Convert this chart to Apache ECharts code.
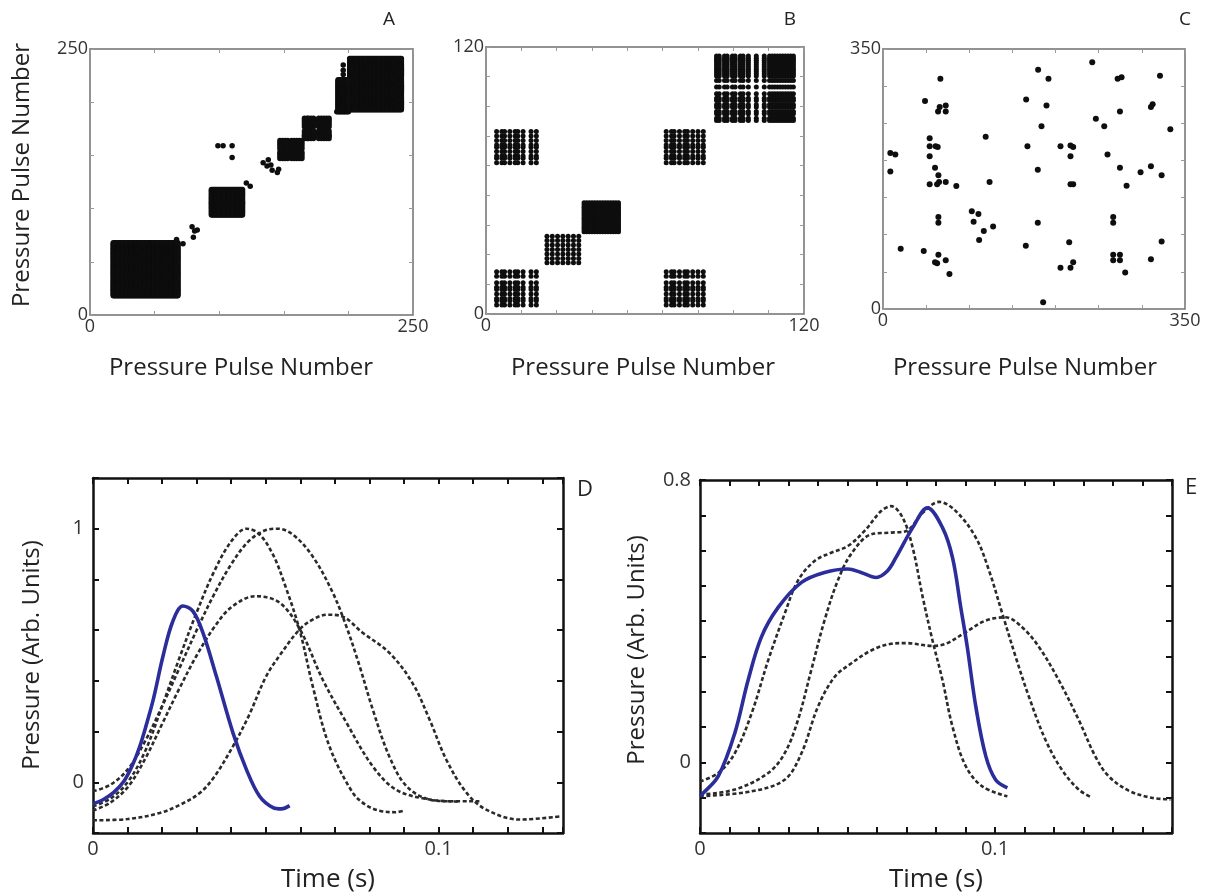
<!DOCTYPE html>
<html>
<head>
<meta charset="utf-8">
<script src="https://cdn.jsdelivr.net/npm/echarts/dist/echarts.min.js"></script>
<style>
html,body{margin:0;padding:0;background:#fff;}
#chart{width:1217px;height:896px;}
</style>
</head>
<body>
<div id="chart"></div>
<script>
// ---------------- DATA ----------------
// Panel A: recurrence plot, 250 pulses. Dense blocks given as pulse ranges [x0,x1,y0,y1]
const aDenseBlocks = [[18,68,18,68],[94,118,94,118],[201,241,193,241],[192,200,191,221]];
const aClusterP = [147,149,151,153,156,158,160,162,164];
const aClusterQ = [166,168,169,171,173,177,179,181,183,185];
const aPoints = [[67,71],[72,67],[79,83],[81,79],[80,73],[83,80],[121,124],[124,121],
  [134,143],[138,146],[137,140],[140,141],[141,136],[145,134],[146,137],
  [99,159],[103,159],[110,159],[110,148],[191,191],[196,226],[196,230],[196,235]];
const aTickLabels = [0,250];

// Panel B: recurrence plot, 120 pulses. Pulses belonging to each recurring state
const bState1a = [4,6,7,9,11,12,14,17,19];
const bState1b = [68,70,71,73,75,76,78,80,82];
const bState2a = [23,25,27,29,31,33,35];
const bState2b = [37,38,39,40,41,42,43,44,45,46,47,48,49,50];
const bState3  = [87,88,90,91,93,94,96,97,99,102,105,107,108,109,110,111,112,113,114,115,116];
const bTickLabels = [0,120];

// Panel C: recurrence plot, 350 pulses (sparse)
const cPoints = [[8.5,210],[14.3,208],[8.5,185],[20.5,81],[47.2,78],[48.7,280],[66.5,310],
  [65.7,272],[72.7,274],[63.8,266],[72.7,266],[54.1,230],[54.1,219],[61,219],[63.4,218],
  [54.1,205.5],[60.3,190],[64.2,180],[54.1,168],[62.7,168],[65,171],[72.7,171],[85,165.6],
  [119,232],[123.5,171],[64.2,124],[64.2,116],[102.9,131.5],[110.6,128],[105,117.6],
  [116.8,105],[127.6,111],[111.4,93],[64.2,73],[60.3,63],[62.7,61.5],[72.7,65.5],[77,47],
  [165.9,282],[179.8,322],[191.8,310],[189.5,274],[183.7,246],[167.4,219],[179.4,187.5],
  [179.4,116],[165.5,85],[185.6,9],[205.7,219],[217.3,220],[220.4,218],[217.3,205.5],
  [217.3,168],[220.4,168],[215.8,90],[205.7,55.6],[217.3,55.6],[220.4,63],[242.5,332],
  [246.7,256],[256.4,246],[260.2,208],[271.9,310],[276.5,312],[274.6,266],[274.6,190],
  [282.3,166],[266.8,124],[266.8,116],[266.8,73],[274.6,73],[266.8,65.5],[274.6,65.5],
  [280.7,49],[298.5,184],[310.5,272],[312.5,275.5],[321,314],[333,242],[310.5,192],
  [322.9,180],[322.9,91],[310.5,67]];
const cTickLabels = [0,350];

// Panel D: pressure pulses [time (s), pressure]
const dBlue = [[0,-0.085],[0.003,-0.068],[0.006,-0.04],[0.009,0.005],[0.0115,0.07],[0.0135,0.14],
  [0.0155,0.23],[0.0175,0.33],[0.0203,0.5],[0.0231,0.635],[0.026,0.695],[0.0289,0.675],
  [0.0318,0.59],[0.0357,0.418],[0.0405,0.195],[0.0444,0.05],[0.0482,-0.055],[0.0521,-0.1],
  [0.0545,-0.105],[0.0569,-0.092]];
const dPulse1 = [[0,-0.095],[0.005,-0.065],[0.01,0.0],[0.015,0.12],[0.02,0.3],[0.025,0.49],
  [0.03,0.67],[0.035,0.83],[0.04,0.95],[0.0444,1.0],[0.048,0.98],[0.052,0.9],[0.0555,0.78],
  [0.0598,0.6],[0.0636,0.378],[0.0684,0.142],[0.0751,-0.04],[0.079,-0.09],[0.0829,-0.112],
  [0.0875,-0.118],[0.0901,-0.112]];
const dPulse2 = [[0,-0.035],[0.005,-0.01],[0.01,0.05],[0.015,0.16],[0.02,0.3],[0.025,0.45],
  [0.03,0.6],[0.035,0.74],[0.04,0.86],[0.045,0.95],[0.0497,0.993],[0.0535,1.0],[0.058,0.975],
  [0.0636,0.89],[0.0693,0.75],[0.0733,0.615],[0.0771,0.46],[0.081,0.285],[0.0858,0.1],
  [0.0907,-0.015],[0.0974,-0.068],[0.104,-0.075],[0.1118,-0.075]];
const dPulse3 = [[0,-0.112],[0.005,-0.08],[0.01,-0.02],[0.015,0.09],[0.02,0.23],[0.025,0.37],
  [0.03,0.5],[0.035,0.61],[0.04,0.69],[0.047,0.734],[0.054,0.708],[0.06,0.6],[0.0665,0.404],
  [0.0733,0.236],[0.081,0.062],[0.0878,-0.03],[0.0974,-0.068],[0.106,-0.076]];
const dPulse4 = [[0,-0.15],[0.01,-0.145],[0.0193,-0.121],[0.025,-0.09],[0.0309,-0.042],
  [0.035,0.02],[0.0405,0.142],[0.045,0.26],[0.0501,0.418],[0.054,0.5],[0.0598,0.603],
  [0.064,0.645],[0.068,0.661],[0.072,0.655],[0.078,0.59],[0.0858,0.51],[0.0925,0.39],
  [0.0974,0.247],[0.1022,0.09],[0.108,-0.04],[0.1138,-0.108],[0.1234,-0.147],[0.135,-0.135]];
const dXTickLabels = [0,0.1];
const dYTickLabels = [0,1];

// Panel E: pressure pulses [time (s), pressure]
const eBlue = [[0,-0.095],[0.0006,-0.091],[0.0062,-0.039],[0.0118,0.083],[0.0163,0.233],
  [0.0208,0.355],[0.0265,0.439],[0.0344,0.51],[0.0422,0.538],[0.0501,0.548],[0.0546,0.538],
  [0.0597,0.524],[0.0636,0.543],[0.0664,0.58],[0.0721,0.665],[0.0771,0.721],[0.0822,0.665],
  [0.0856,0.58],[0.0884,0.439],[0.0906,0.327],[0.0935,0.158],[0.0969,0.017],[0.1002,-0.049],
  [0.1042,-0.072]];
const ePulse1 = [[0,-0.054],[0.0062,-0.03],[0.0118,0.026],[0.0175,0.139],[0.0231,0.289],
  [0.0287,0.421],[0.0332,0.515],[0.0389,0.571],[0.0445,0.594],[0.0501,0.613],[0.0557,0.655],
  [0.0614,0.712],[0.0648,0.726],[0.0687,0.693],[0.0721,0.608],[0.0755,0.468],[0.0788,0.346],
  [0.0822,0.233],[0.0856,0.101],[0.0901,-0.011],[0.0957,-0.068],[0.1042,-0.096]];
const ePulse2 = [[0,-0.091],[0.0118,-0.077],[0.0231,-0.03],[0.0287,0.026],[0.0332,0.12],
  [0.0377,0.261],[0.0422,0.402],[0.0467,0.515],[0.0512,0.59],[0.058,0.646],[0.0648,0.651],
  [0.0698,0.655],[0.0755,0.707],[0.0811,0.738],[0.0867,0.712],[0.0935,0.637],[0.098,0.543],
  [0.1025,0.421],[0.107,0.299],[0.1115,0.186],[0.1171,0.064],[0.1227,-0.021],[0.1284,-0.077],
  [0.1329,-0.1]];
const ePulse3 = [[0,-0.096],[0.0175,-0.082],[0.0287,-0.049],[0.0344,0.026],[0.04,0.158],
  [0.0456,0.242],[0.0512,0.28],[0.058,0.317],[0.0648,0.336],[0.0698,0.338],[0.0788,0.33],
  [0.0833,0.336],[0.0901,0.369],[0.0969,0.402],[0.1036,0.411],[0.1092,0.383],[0.1149,0.327],
  [0.1216,0.233],[0.1284,0.12],[0.134,0.017],[0.1385,-0.039],[0.1453,-0.08],[0.153,-0.1],
  [0.1595,-0.105]];
const eXTickLabels = [0,0.1];
const eYTickLabels = [0,0.8];

// ---------------- BUILD ----------------
const FONT = "'Open Sans','Noto Sans',sans-serif";
function pulses(a,b){const r=[];for(let i=a;i<=b;i++)r.push(i);return r;}
function pairs(xs,ys){const o=[];xs.forEach(x=>ys.forEach(y=>o.push([x,y])));return o;}

const aData = [].concat(
  ...aDenseBlocks.map(b=>pairs(pulses(b[0],b[1]),pulses(b[2],b[3]))),
  pairs(aClusterP,aClusterP), pairs(aClusterQ,aClusterQ), aPoints);
const bData = [].concat(
  pairs(bState1a,bState1a), pairs(bState1a,bState1b), pairs(bState1b,bState1a), pairs(bState1b,bState1b),
  pairs(bState2a,bState2a), pairs(bState2b,bState2b), pairs(bState3,bState3));

const grids = [
  {left:90, top:49, width:323, height:266},
  {left:486, top:47, width:318, height:267},
  {left:883, top:49, width:302, height:260},
  {left:93, top:478, width:470, height:355},
  {left:700, top:480, width:472, height:353}
];
const light = {line:'#6f6f6f', lw:1.5, tick:'#9a9a9a', tw:1, tl:4, fs:18, color:'#333', xm:3, ym:2};
const bold  = {line:'#111', lw:2.5, tick:'#111', tw:2, tl:6, fs:20, color:'#333', xm:6, ym:9};
const axSpec = [
  {x:[0,250,50,aTickLabels], y:[0,250,50,aTickLabels], st:light},
  {x:[0,120,120/9,bTickLabels], y:[0,120,120/9,bTickLabels], st:light},
  {x:[0,350,50,cTickLabels], y:[0,350,50,cTickLabels], st:light},
  {x:[0,0.136,0.01,dXTickLabels], y:[-0.2,1.2,0.2,dYTickLabels], st:bold},
  {x:[0,0.16,0.01,eXTickLabels], y:[-0.2,0.8,0.1,eYTickLabels], st:bold}
];
function fmt(labels){return v=>{const l=labels.find(t=>Math.abs(t-v)<1e-7);return l===undefined?'':String(l);};}
function axis(gi,pos,spec,st,isX){
  const main = (pos==='bottom'||pos==='left');
  return {type:'value', gridIndex:gi, position:pos, min:spec[0], max:spec[1], interval:spec[2],
    axisLine:{show:true,onZero:false,lineStyle:{color:st.line,width:st.lw}},
    axisTick:{show:true,inside:true,length:st.tl,lineStyle:{color:st.tick,width:st.tw}},
    axisLabel:{show:main,showMinLabel:true,showMaxLabel:true,margin:isX?st.xm:st.ym,
      fontSize:st.fs,color:st.color,fontFamily:FONT,formatter:fmt(spec[3])},
    splitLine:{show:false}};
}
const xAxes=[], yAxes=[];
axSpec.forEach((s,i)=>{
  xAxes.push(axis(i,'bottom',s.x,s.st,true)); xAxes.push(axis(i,'top',s.x,s.st,true));
  yAxes.push(axis(i,'left',s.y,s.st,false)); yAxes.push(axis(i,'right',s.y,s.st,false));
});

const dot = (gi,data,size)=>({type:'scatter',xAxisIndex:2*gi,yAxisIndex:2*gi,data,symbol:'circle',
  symbolSize:size,itemStyle:{color:'#0e0e0e',opacity:1},silent:true,large:false});
const blueStyle={color:'#2b2e9a',width:3.6};
const dashStyle={color:'#2a2a2a',width:2.6,type:[4,2.5]};
const line=(gi,data,ls,z)=>({type:'line',xAxisIndex:2*gi,yAxisIndex:2*gi,data,smooth:0.35,
  showSymbol:false,symbol:'none',lineStyle:ls,silent:true,z});

const txt=(x,y,t,fs,rot)=>({type:'text',x,y,rotation:rot||0,silent:true,
  style:{text:t,fontSize:fs,fontFamily:FONT,fill:'#222',textAlign:'center',textVerticalAlign:'middle'}});

const chart = echarts.init(document.getElementById('chart'),null,{renderer:'canvas'});
chart.setOption({
  animation:false,
  backgroundColor:'#fff',
  grid:grids,
  xAxis:xAxes,
  yAxis:yAxes,
  series:[
    dot(0,aData,5.5), dot(1,bData,5), dot(2,cPoints,6),
    line(3,dPulse1,dashStyle,2), line(3,dPulse2,dashStyle,2), line(3,dPulse3,dashStyle,2),
    line(3,dPulse4,dashStyle,2), line(3,dBlue,blueStyle,3),
    line(4,ePulse1,dashStyle,2), line(4,ePulse2,dashStyle,2), line(4,ePulse3,dashStyle,2),
    line(4,eBlue,blueStyle,3)
  ],
  graphic:[
    txt(22,175,'Pressure Pulse Number',24,Math.PI/2),
    txt(241,368,'Pressure Pulse Number',24),
    txt(643,368,'Pressure Pulse Number',24),
    txt(1025,368,'Pressure Pulse Number',24),
    txt(389,20,'A',19), txt(790,20,'B',19), txt(1185,20,'C',19),
    txt(32,655,'Pressure (Arb. Units)',24,Math.PI/2),
    txt(637,650,'Pressure (Arb. Units)',24,Math.PI/2),
    txt(328,880,'Time (s)',26), txt(936,880,'Time (s)',26),
    txt(585,490,'D',22), txt(1191,488,'E',22)
  ]
});
</script>
</body>
</html>
